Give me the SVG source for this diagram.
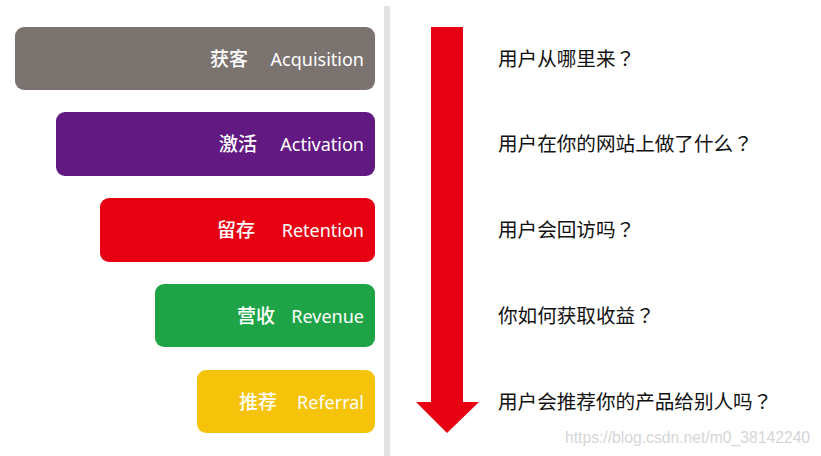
<svg xmlns="http://www.w3.org/2000/svg" width="821" height="456" viewBox="0 0 821 456">
<style>
.box{stroke:none}
.cn{font-family:"Noto Sans CJK SC","Noto Sans",sans-serif;font-size:19px;fill:#fff;font-weight:500}
.en{font-family:"Noto Sans","Open Sans",sans-serif;font-size:18px;fill:#fff;text-anchor:end}
.q{font-family:"Noto Sans CJK SC",sans-serif;font-size:19.6px;fill:#111}
.qm{font-family:"Noto Sans CJK JP",sans-serif}
.wm{font-family:"Liberation Sans",Arial,sans-serif;font-size:15.7px;fill:#d6d6d6}
</style>
<rect width="821" height="456" fill="#fff"/>
<rect x="384" y="6" width="6" height="450" fill="#e2e2e2"/>
<g id="acquisition">
<rect class="box" x="15" y="27" width="360" height="63" rx="9" fill="#7b7370"/>
<text class="cn" x="210" y="66">获客</text>
<text class="en" x="364" y="66">Acquisition</text>
</g>
<g id="activation">
<rect class="box" x="56" y="112" width="319" height="64" rx="9" fill="#621a82"/>
<text class="cn" x="219" y="151">激活</text>
<text class="en" x="364" y="151">Activation</text>
</g>
<g id="retention">
<rect class="box" x="100" y="198" width="275" height="64" rx="9" fill="#e60012"/>
<text class="cn" x="217" y="237">留存</text>
<text class="en" x="364" y="237">Retention</text>
</g>
<g id="revenue">
<rect class="box" x="155" y="284" width="220" height="63" rx="9" fill="#1ea446"/>
<text class="cn" x="237" y="323">营收</text>
<text class="en" x="364" y="323">Revenue</text>
</g>
<g id="referral">
<rect class="box" x="197" y="370" width="178" height="63" rx="9" fill="#f5c30a"/>
<text class="cn" x="239" y="409">推荐</text>
<text class="en" x="364" y="409">Referral</text>
</g>
<g id="connectors">
<polygon points="431,27 463,27 463,402 479,402 447,433 416,402 431,402" fill="#e60012"/>
</g>
<g id="questions">
<text class="q" x="498" y="66">用户从哪里来<tspan class="qm">？</tspan></text>
<text class="q" x="498" y="151">用户在你的网站上做了什么<tspan class="qm">？</tspan></text>
<text class="q" x="498" y="237">用户会回访吗<tspan class="qm">？</tspan></text>
<text class="q" x="498" y="323">你如何获取收益<tspan class="qm">？</tspan></text>
<text class="q" x="498" y="409">用户会推荐你的产品给别人吗<tspan class="qm">？</tspan></text>
</g>
<text class="wm" x="565" y="443">https://blog.csdn.net/m0_38142240</text>
</svg>
